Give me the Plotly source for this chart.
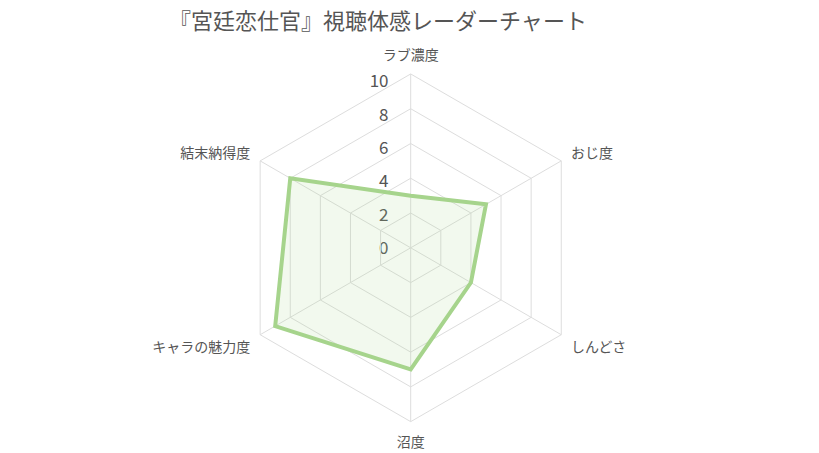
import plotly.graph_objects as go

categories = ["ラブ濃度", "おじ度", "しんどさ", "沼度", "キャラの魅力度", "結末納得度"]
values = [3, 5, 4, 7, 9, 8]
tick_vals = [0, 2, 4, 6, 8, 10]
title_text = "『宮廷恋仕官』視聴体感レーダーチャート"

FONT = "Noto Sans CJK JP"
W, H = 819, 453
OFF = 8  # page body margin
CX, CY, R = 410.7 - OFF, 247.0 - OFF, 176.0
TLEN = 8  # invisible angular tick length (label padding)
RD = R + TLEN  # polar domain half-size (plotly shrinks the radius by the tick length)
TICK_RIGHT = 386.5 - OFF  # right edge of radial tick labels

fig = go.Figure()
fig.add_trace(go.Scatterpolar(
    r=values + values[:1],
    theta=categories + categories[:1],
    mode="lines",
    fill="toself",
    fillcolor="rgba(166,212,140,0.15)",
    line=dict(color="#a6d48c", width=4),
    showlegend=False,
    hoverinfo="skip",
))
# empty cartesian trace so the scale axis (same 0-10 mapping as the radial axis) is drawn
fig.add_trace(go.Scatter(x=[None], y=[None], mode="lines", showlegend=False, hoverinfo="skip"))

fig.update_layout(
    width=W, height=H,
    paper_bgcolor="white",
    plot_bgcolor="rgba(0,0,0,0)",
    margin=dict(l=0, r=0, t=0, b=0),
    font=dict(family=FONT, color="#555555"),
    title=dict(text=title_text, x=(378 - OFF) / W, xanchor="center", y=1 - (21 - OFF) / H, yanchor="middle",
               font=dict(family=FONT, size=22, color="#555555")),
    xaxis=dict(visible=False, domain=[(CX - 5) / W, (CX + 5) / W], range=[0, 1]),
    yaxis=dict(
        domain=[(H - CY) / H, (H - CY + R) / H], range=[0, 10],
        tickvals=tick_vals, anchor="free", position=(TICK_RIGHT + 2) / W,
        showgrid=False, zeroline=False, showline=False, ticks="",
        tickfont=dict(family=FONT, size=17, color="#555555"),
    ),
    polar=dict(
        bgcolor="rgba(0,0,0,0)",
        gridshape="linear",
        domain=dict(x=[(CX - RD) / W, (CX + RD) / W], y=[(H - CY - RD) / H, (H - CY + RD) / H]),
        angularaxis=dict(
            direction="clockwise", rotation=90,
            linecolor="#dddddd", gridcolor="#dddddd", linewidth=1,
            ticks="outside", ticklen=TLEN, tickcolor="rgba(0,0,0,0)",
            tickfont=dict(family=FONT, size=14, color="#555555"),
        ),
        radialaxis=dict(
            range=[0, 10], tickvals=tick_vals, angle=90,
            showline=False, showticklabels=False, gridcolor="#dddddd", ticks="",
        ),
    ),
)

fig.write_html("out.html")
